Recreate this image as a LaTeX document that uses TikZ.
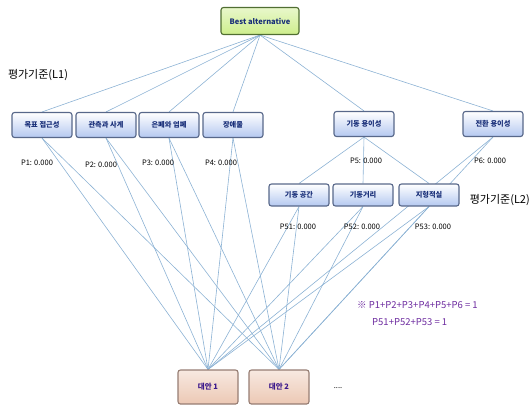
\documentclass[tikz,border=0pt]{standalone}
\usepackage{fontspec}
\setmainfont{Noto Sans CJK KR}
\usepackage{xcolor}
\usetikzlibrary{backgrounds}
\definecolor{lnkblue}{RGB}{140,178,212}
\definecolor{critedge}{RGB}{88,104,138}
\definecolor{critfill}{RGB}{180,200,240}
\definecolor{crittext}{RGB}{24,46,120}
\definecolor{goaledge}{RGB}{80,110,50}
\definecolor{goalfill}{RGB}{205,238,140}
\definecolor{altedge}{RGB}{150,125,115}
\definecolor{altfill}{RGB}{236,200,180}
\definecolor{alttext}{RGB}{60,25,140}
\definecolor{notetext}{RGB}{110,45,160}

\begin{document}
\begin{tikzpicture}[x=1pt,y=-1pt,
    crit/.style={draw=critedge, line width=1.1pt, rounded corners=2.5pt, top color=white, bottom color=critfill,
      minimum width=60pt, minimum height=25pt, inner sep=1pt, text=crittext, font=\fontsize{7.2}{8}\selectfont\bfseries},
    subcrit/.style={crit, minimum height=22pt},
    goal/.style={draw=goaledge, line width=1.1pt, rounded corners=2.5pt, top color=goalfill!45, bottom color=goalfill,
      minimum width=78pt, minimum height=27pt, inner sep=1pt, text=crittext, font=\fontsize{7.5}{8}\selectfont\bfseries},
    alt/.style={draw=altedge, line width=1.1pt, rounded corners=2.5pt, top color=altfill!40, bottom color=altfill,
      minimum width=60pt, minimum height=34pt, inner sep=1pt, text=alttext, font=\fontsize{7.5}{8}\selectfont\bfseries},
    wlab/.style={font=\fontsize{7.5}{8}\selectfont, inner sep=1pt},
    lvl/.style={font=\fontsize{11}{12}\selectfont, inner sep=1pt},
    lnk/.style={draw=lnkblue, line width=0.6pt}]
  \useasboundingbox (0,0) rectangle (532,405);

  % goal
  \node[goal] (best) at (260,21) {Best alternative};
  \node[lvl] (lv1) at (38,75) {평가기준(L1)};

  % level 1
  \node[crit] (c1) at (42,125) {목표 접근성};
  \node[crit] (c2) at (106,125) {관측과 사계};
  \node[crit] (c3) at (169,125) {은폐와 엄폐};
  \node[crit] (c4) at (233,125) {장애물};
  \node[crit] (c5) at (364,124) {기동 용이성};
  \node[crit] (c6) at (493,124) {전환 용이성};

  \node[wlab] (p1) at (37,163) {P1: 0.000};
  \node[wlab] (p2) at (101,165) {P2: 0.000};
  \node[wlab] (p3) at (158,163) {P3: 0.000};
  \node[wlab] (p4) at (221,163) {P4: 0.000};
  \node[wlab] (p5) at (366,161) {P5: 0.000};
  \node[wlab] (p6) at (490,161) {P6: 0.000};

  % level 2
  \node[subcrit] (s1) at (299,195) {기동 공간};
  \node[subcrit] (s2) at (363,195) {기동거리};
  \node[subcrit] (s3) at (429,195) {지형적실};
  \node[lvl, anchor=east] (lv2) at (531,200) {평가기준(L2)};

  \node[wlab] (p51) at (298,227) {P51: 0.000};
  \node[wlab] (p52) at (362,227) {P52: 0.000};
  \node[wlab] (p53) at (433,227) {P53: 0.000};

  % alternatives
  \node[alt] (a1) at (208,387) {대안 1};
  \node[alt] (a2) at (279,387) {대안 2};
  \node[wlab] (more) at (338,388) {....};

  \node[anchor=west, inner sep=0pt, text=notetext, font=\fontsize{9.5}{10}\selectfont] (n1) at (357,305) {※\ P1+P2+P3+P4+P5+P6 = 1};
  \node[anchor=west, inner sep=0pt, text=notetext, font=\fontsize{9.5}{10}\selectfont] (n2) at (372,322) {P51+P52+P53 = 1};

  \begin{scope}[on background layer]
    \foreach \c in {c1,c2,c3,c4,c5,c6}
      \draw[lnk] (best.south) -- (\c.north);
    \foreach \s in {s1,s2,s3}
      \draw[lnk] (c5.south) -- (\s.north);
    \foreach \c in {c1,c2,c3,c4,c6,s1,s2,s3} {
      \draw[lnk] (\c.south) -- (a1.north);
      \draw[lnk] (\c.south) -- (a2.north);
    }
  \end{scope}
\end{tikzpicture}
\end{document}
